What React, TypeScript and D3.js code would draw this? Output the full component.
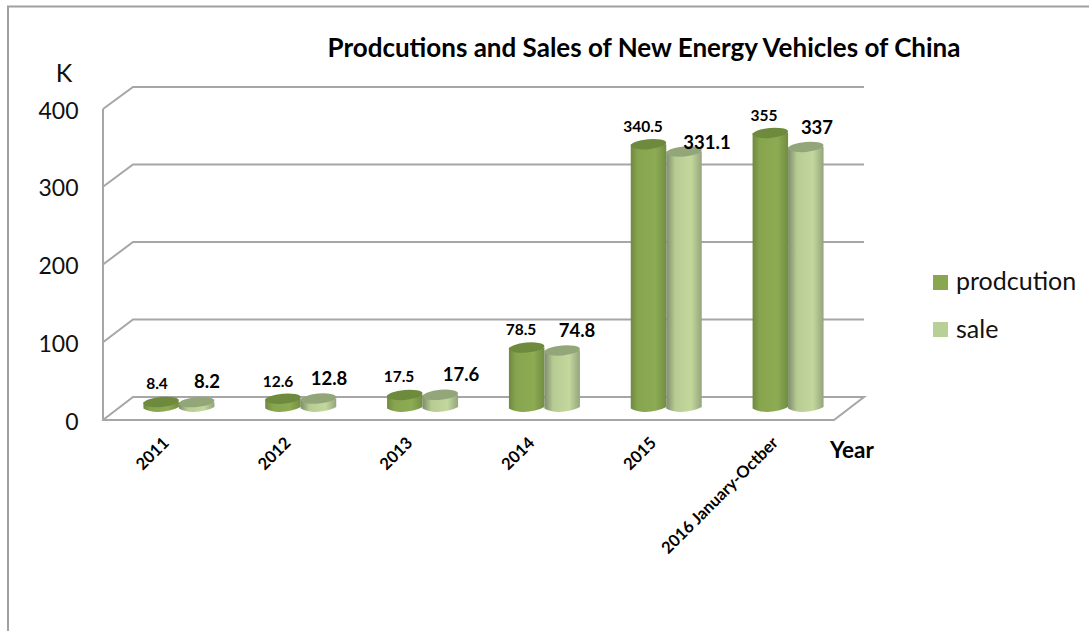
import React from "react";
import * as d3 from "d3";

const categories = ["2011", "2012", "2013", "2014", "2015", "2016 January-Octber"];
const production = [8.4, 12.6, 17.5, 78.5, 340.5, 355];
const sale = [8.2, 12.8, 17.6, 74.8, 331.1, 337];
const ticks = [0, 100, 200, 300, 400];
const title = "Prodcutions and Sales of New Energy Vehicles of China";
const font = "Lato, 'Open Sans', sans-serif";

const x = d3.scaleBand<string>().domain(categories).range([103, 834]);
const yFront = d3.scaleLinear().domain([0, 400]).range([420, 109]);
const yBack = d3.scaleLinear().domain([0, 400]).range([397, 87]);
const yBar = d3.scaleLinear().domain([0, 400]).range([408.5, 98]);
const grid = "#a6a6a6";

const prodLabelPos = [[157, 389], [278, 387], [399, 382], [521, 335], [643, 132], [764, 121]];
const saleLabelPos = [[207, 388], [329, 385], [461, 381], [577, 337], [707, 149], [817, 134]];

function Cyl({ cx, w, v, side, top }: { cx: number; w: number; v: number; side: string; top: string }) {
  const yt = yBar(v);
  const yb = yBar(0);
  const rx = w / 2;
  const ry = 5;
  const path = d3.path();
  path.moveTo(cx - rx, yt);
  path.lineTo(cx - rx, yb);
  path.bezierCurveTo(cx - rx * 0.5, yb + ry * 1.15, cx + rx * 0.5, yb + ry * 0.7, cx + rx, yb - 1.5);
  path.lineTo(cx + rx, yt);
  path.closePath();
  return (
    <g>
      <path d={path.toString()} fill={`url(#${side})`} />
      <ellipse cx={cx} cy={yt} rx={rx} ry={ry} fill={top} transform={`rotate(-5 ${cx} ${yt})`} />
    </g>
  );
}

export default function App() {
  const bw = 35.5;
  return (
    <svg width={1089} height={631} style={{ position: "absolute", left: 0, top: 0, background: "#fff" }} fontFamily={font}>
      <defs>
        <linearGradient id="gp">
          <stop offset="0" stopColor="#70893f" />
          <stop offset="0.2" stopColor="#86a54e" />
          <stop offset="0.7" stopColor="#8cab53" />
          <stop offset="1" stopColor="#728d42" />
        </linearGradient>
        <linearGradient id="gs">
          <stop offset="0" stopColor="#7f8d6c" />
          <stop offset="0.25" stopColor="#b7cc93" />
          <stop offset="0.7" stopColor="#c3d79d" />
          <stop offset="1" stopColor="#95a57c" />
        </linearGradient>
      </defs>
      <path d="M8 631V6.5H1089" fill="none" stroke="#a0a0a0" strokeWidth={2} />
      {ticks.slice(1).map((t) => (
        <path key={t} d={`M103 ${yFront(t)}L133 ${yBack(t)}H864`} fill="none" stroke={grid} strokeWidth={2} />
      ))}
      <path d={`M103 ${yFront(400)}V${yFront(0)}H834L864 ${yBack(0)}H133L103 ${yFront(0)}`} fill="none" stroke={grid} strokeWidth={2} />
      {categories.map((c, i) => {
        const base = x(c)! + 15 + x.bandwidth() / 2;
        return (
          <g key={c}>
            <Cyl cx={base - bw / 2} w={bw} v={production[i]} side="gp" top="#6e8b3d" />
            <Cyl cx={base + bw / 2} w={bw} v={sale[i]} side="gs" top="#93a67a" />
          </g>
        );
      })}
      {ticks.map((t) => (
        <text key={t} x={78.5} y={yFront(t) + 9.5} textAnchor="end" fontSize={23} fill="#111">{t}</text>
      ))}
      <text x={64} y={82} textAnchor="middle" fontSize={25} fill="#111">K</text>
      <text x={644} y={57} textAnchor="middle" fontSize={26} fontWeight={700} fill="#000">{title}</text>
      <text x={852} y={458} textAnchor="middle" fontSize={22.5} fontWeight={700} fill="#000">Year</text>
      {categories.map((c) => (
        <text key={c} textAnchor="end" fontSize={16.5} fontWeight={700} fill="#000"
          transform={`translate(${x(c)! + x.bandwidth() / 2 + 6} 444) rotate(-45)`}>{c}</text>
      ))}
      {categories.map((c, i) => (
        <g key={c} fontWeight={700} fill="#000" textAnchor="middle">
          <text x={prodLabelPos[i][0]} y={prodLabelPos[i][1]} fontSize={15.5}>{production[i]}</text>
          <text x={saleLabelPos[i][0]} y={saleLabelPos[i][1]} fontSize={18.5}>{sale[i]}</text>
        </g>
      ))}
      <rect x={933} y={275} width={15} height={15} fill="#8aa650" />
      <rect x={933} y={322} width={15} height={15} fill="#b8cf95" />
      <text x={956} y={290} fontSize={25} fill="#111">prodcution</text>
      <text x={956} y={338} fontSize={25} fill="#111">sale</text>
    </svg>
  );
}
